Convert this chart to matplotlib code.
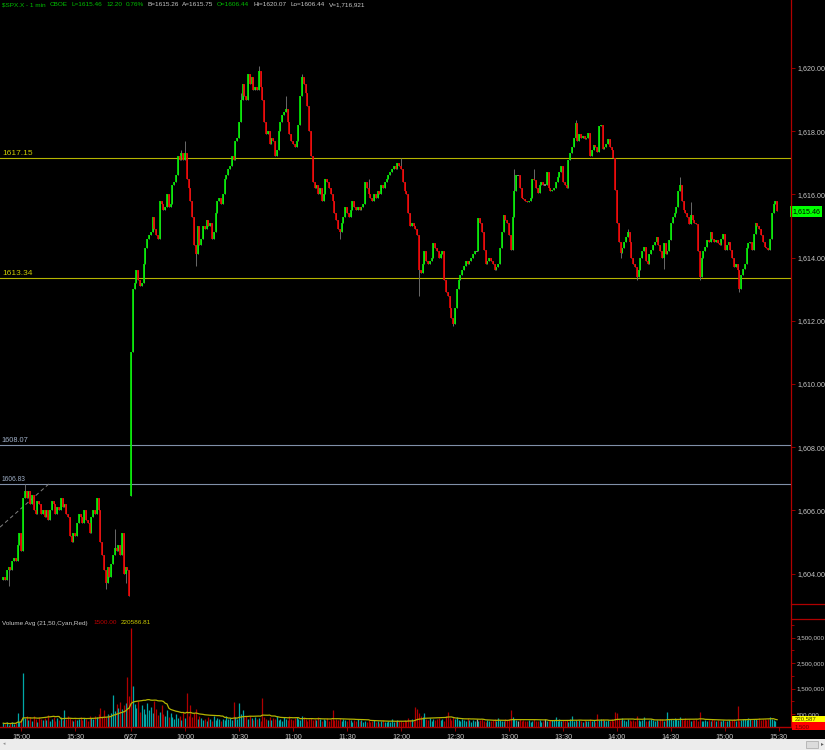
import matplotlib.pyplot as plt
from matplotlib.lines import Line2D
from matplotlib.patches import Rectangle
import numpy as np
import pandas as pd

plt.rcParams['font.family'] = ['Liberation Sans', 'DejaVu Sans']

# ---- data ----
# day 1 (6/26, 14:50 - 16:00) closes, one per minute
day1_close = [
    1603.9, 1603.8, 1604.1, 1604.2, 1604.1, 1604.4, 1604.5, 1604.4, 1604.9, 1605.3,
    1604.7, 1606.4, 1606.6, 1606.4, 1606.6, 1606.2, 1606.5, 1606.0, 1605.9, 1606.3,
    1606.2, 1605.9, 1606.0, 1605.8, 1606.0, 1605.7, 1606.0, 1606.3, 1606.2, 1605.9,
    1606.1, 1606.0, 1606.4, 1606.1, 1606.2, 1605.9, 1605.8, 1605.2, 1605.0, 1605.3,
    1605.2, 1605.6, 1605.9, 1605.8, 1605.6, 1606.0, 1605.7, 1605.6, 1605.3, 1605.8,
    1606.0, 1605.9, 1606.4, 1606.0, 1605.0, 1604.6, 1604.1, 1603.7, 1604.2, 1603.9,
    1604.3, 1604.6, 1604.8, 1604.7, 1604.9, 1604.6, 1605.3, 1604.0, 1604.2, 1604.1, 1603.3,
]
day1_open = 1603.8

# day 2 (6/27, 9:30 - 15:29) closes
day2_close = [
    1611.0, 1613.0, 1613.2, 1613.6, 1613.3, 1613.1, 1613.2, 1613.8, 1614.3, 1614.6,
    1614.7, 1614.8, 1615.3, 1614.9, 1614.7, 1614.6, 1615.8, 1615.7, 1615.5, 1615.6,
    1616.0, 1615.6, 1615.7, 1616.3, 1616.4, 1616.6, 1617.2, 1617.1, 1617.3, 1617.1,
    1617.3, 1616.5, 1616.2, 1615.8, 1615.3, 1614.4, 1614.1, 1615.0, 1614.4, 1614.6,
    1615.0, 1614.9, 1615.2, 1615.0, 1615.1, 1614.6, 1614.8, 1615.4, 1615.8, 1615.9,
    1615.7, 1616.0, 1616.5, 1616.6, 1616.8, 1616.9, 1617.2, 1617.1, 1617.7, 1617.8,
    1618.3, 1619.0, 1619.5, 1619.1, 1619.0, 1619.8, 1619.5, 1619.7, 1619.3, 1619.4,
    1619.3, 1619.9, 1619.4, 1619.0, 1618.3, 1617.9, 1618.0, 1617.6, 1617.8, 1617.7,
    1617.2, 1617.4, 1618.0, 1618.3, 1618.5, 1618.6, 1618.7, 1618.3, 1617.9, 1617.7,
    1617.6, 1617.5, 1617.7, 1618.2, 1619.1, 1619.7, 1619.5, 1619.2, 1618.8, 1618.0,
    1617.2, 1616.4, 1616.2, 1616.3, 1616.0, 1616.2, 1615.8, 1616.0, 1616.5, 1616.4,
    1616.2, 1616.0, 1615.8, 1615.4, 1615.2, 1614.9, 1614.8, 1615.1, 1615.3, 1615.6,
    1615.4, 1615.3, 1615.5, 1615.8, 1615.6, 1615.5, 1615.6, 1615.5, 1615.6, 1615.7,
    1616.4, 1616.2, 1616.0, 1615.9, 1615.8, 1616.0, 1615.9, 1616.1, 1616.0, 1616.3,
    1616.2, 1616.4, 1616.5, 1616.6, 1616.7, 1616.8, 1616.9, 1616.8, 1617.0, 1616.9,
    1616.8, 1616.4, 1616.1, 1616.0, 1615.4, 1615.0, 1615.1, 1615.0, 1614.9, 1614.7,
    1613.6, 1613.5, 1613.8, 1614.2, 1613.9, 1613.8, 1613.9, 1614.0, 1614.45, 1614.3,
    1614.2, 1614.0, 1614.1, 1614.2, 1613.3, 1612.9, 1612.8, 1612.4, 1612.1, 1611.9,
    1612.4, 1613.0, 1613.3, 1613.45, 1613.6, 1613.75, 1613.9, 1613.8, 1613.9, 1614.0,
    1614.1, 1614.2, 1614.2, 1615.25, 1615.1, 1614.8, 1614.25, 1613.8, 1613.9, 1614.0,
    1613.9, 1613.8, 1613.6, 1613.7, 1613.8, 1614.3, 1614.8, 1615.35, 1615.2, 1615.1,
    1614.7, 1614.25, 1615.3, 1616.1, 1616.6, 1616.6, 1616.2, 1615.9, 1615.85, 1615.8,
    1615.75, 1615.8, 1615.9, 1616.5, 1616.45, 1616.2, 1616.05, 1616.3, 1616.4, 1616.3,
    1616.3, 1616.7, 1616.2, 1616.1, 1616.15, 1616.2, 1616.4, 1616.55, 1616.7, 1616.9,
    1616.4, 1616.3, 1616.2, 1617.1, 1617.3, 1617.5, 1617.8, 1618.25, 1617.7, 1617.9,
    1617.8, 1617.85, 1617.75, 1617.8, 1617.95, 1617.2, 1617.4, 1617.55, 1617.5, 1617.35,
    1618.15, 1618.2, 1617.45, 1617.5, 1617.6, 1617.75, 1617.5, 1617.4, 1617.15, 1616.15,
    1615.1, 1614.5, 1614.15, 1614.3, 1614.5, 1614.65, 1614.8, 1614.5, 1614.0, 1613.8,
    1613.7, 1613.4, 1613.6, 1614.0, 1614.2, 1614.35, 1613.9, 1613.8, 1614.1, 1614.25,
    1614.4, 1614.5, 1614.65, 1614.4, 1614.2, 1614.0, 1614.45, 1614.1, 1614.2, 1614.55,
    1615.1, 1615.3, 1615.4, 1615.6, 1616.1, 1616.3, 1615.8, 1615.5, 1615.4, 1615.3,
    1615.05, 1615.35, 1615.2, 1615.1, 1615.05, 1614.2, 1613.4, 1614.0, 1614.2, 1614.35,
    1614.55, 1614.5, 1614.8, 1614.6, 1614.5, 1614.55, 1614.45, 1614.4, 1614.6, 1614.75,
    1614.25, 1614.4, 1614.5, 1614.25, 1614.0, 1613.7, 1613.8, 1613.6, 1613.0, 1613.45,
    1613.65, 1613.8, 1614.3, 1614.45, 1614.5, 1614.25, 1614.75, 1615.1, 1615.0, 1614.9,
    1614.7, 1614.5, 1614.35, 1614.3, 1614.25, 1614.6, 1615.4, 1615.7, 1615.8, 1615.46,
]
day2_open = 1606.44

# wick extremes that stick out of the bodies (bar index -> price)
wick_high = {12: 1606.85, 62: 1605.4, 99: 1617.4, 101: 1617.7, 132: 1619.2,
             142: 1620.07, 157: 1619.1, 166: 1619.8, 203: 1616.5, 221: 1617.15,
             284: 1616.8, 295: 1616.8, 318: 1618.35, 347: 1614.9, 376: 1616.55,
             382: 1615.75, 430: 1615.75}
wick_low = {3: 1603.6, 57: 1603.5, 68: 1603.7, 71: 1606.44, 107: 1613.75,
            187: 1614.6, 231: 1612.8, 250: 1611.85, 343: 1614.0, 352: 1613.3,
            367: 1613.65, 387: 1613.3, 409: 1612.9}

# volume in thousands, one per bar
volume_k = [
    150, 120, 180, 90, 140, 210, 110, 160, 550, 190,
    300, 2100, 350, 420, 280, 380, 250, 450, 310, 200,
    400, 330, 260, 360, 280, 470, 220, 310, 390, 250,
    340, 290, 380, 260, 670, 300, 420, 350, 280, 240,
    310, 270, 330, 380, 290, 360, 300, 250, 420, 350,
    330, 420, 380, 500, 750, 450, 680, 400, 520, 470,
    560, 1250, 620, 900, 760, 980, 700, 850, 950, 1950, 1200,
    3900, 1600, 900, 750, 1000, 600, 850, 700, 500, 950,
    650, 800, 550, 1000, 700, 480, 600, 870, 520, 450,
    650, 400, 550, 380, 300, 500, 350, 420, 280, 600,
    350, 1330, 450, 850, 400, 550, 700, 300, 420, 350,
    280, 320, 250, 380, 300, 220, 420, 260, 350, 300,
    240, 330, 280, 450, 300, 350, 260, 980, 400, 320,
    950, 500, 650, 380, 450, 300, 420, 350, 280, 400,
    300, 360, 250, 1140, 380, 320, 280, 400, 260, 350,
    300, 420, 280, 330, 250, 380, 300, 260, 450, 320,
    280, 350, 400, 300, 260, 420, 380, 300, 250, 330,
    350, 280, 300, 260, 400, 320, 220, 300, 280, 350,
    250, 300, 680, 280, 320, 260, 350, 240, 300, 270,
    230, 310, 260, 200, 280, 240, 300, 220, 260, 190,
    250, 210, 280, 180, 230, 260, 200, 240, 170, 220,
    260, 200, 180, 240, 210, 300, 190, 230, 260, 220,
    250, 200, 280, 230, 350, 260, 300, 240, 800, 700,
    550, 420, 380, 550, 300, 280, 350, 240, 300, 260,
    320, 370, 280, 300, 250, 420, 600, 350, 280, 400,
    300, 380, 260, 220, 300, 280, 240, 350, 260, 200,
    280, 240, 300, 220, 260, 330, 250, 200, 280, 240,
    220, 260, 300, 240, 350, 280, 250, 220, 300, 260,
    300, 650, 400, 300, 260, 240, 330, 220, 280, 250,
    230, 270, 200, 250, 300, 240, 220, 260, 180, 240,
    300, 250, 220, 260, 260, 280, 400, 220, 300, 250,
    280, 230, 260, 200, 300, 420, 240, 260, 220, 280,
    240, 200, 260, 220, 250, 300, 230, 270, 210, 500,
    260, 300, 300, 280, 240, 260, 220, 300, 250, 600,
    550, 320, 280, 350, 260, 240, 300, 280, 220, 260,
    240, 420, 260, 220, 280, 400, 250, 230, 260, 300,
    260, 220, 280, 240, 300, 300, 250, 280, 580, 300,
    320, 280, 350, 300, 260, 400, 300, 280, 350, 260,
    300, 240, 280, 260, 300, 250, 580, 240, 220, 260,
    240, 280, 220, 300, 260, 230, 280, 240, 220, 260,
    250, 230, 280, 220, 260, 300, 240, 820, 250, 280,
    300, 330, 260, 350, 300, 280, 320, 300, 260, 340,
    280, 320, 300, 260, 330, 380, 300, 280, 250, 1.5,
]
red_volume_bars = [71]

tick_pos = [10, 40, 71, 101, 131, 161, 191, 221, 251, 281, 311, 341, 371, 401, 431]
tick_labels = ['15:00', '15:30', '6/27', '10:00', '10:30', '11:00', '11:30', '12:00',
               '12:30', '13:00', '13:30', '14:00', '14:30', '15:00', '15:30']

yellow_levels = [1617.15, 1613.34]
blue_levels = [1608.07, 1606.83]
trend_x = [-1.8, 26]
trend_y = [1605.47, 1606.87]
last_price = 1615.46

# ---- build OHLC ----
close = np.array(day1_close + day2_close)
opens = np.concatenate([[day1_open], close[:-1]])
opens[len(day1_close)] = day2_open
high = np.maximum(opens, close)
low = np.minimum(opens, close)
for k, v in wick_high.items():
    high[k] = max(high[k], v)
for k, v in wick_low.items():
    low[k] = min(low[k], v)
idx = np.arange(len(close))
vol = np.array(volume_k) * 1000.0
vol_avg = pd.Series(vol).rolling(21, min_periods=1).mean()

up = close > opens
down = close < opens
flat = ~(up | down)

W, H = 825, 750
def fx(x):
    return x / W
def fy(y):
    return 1 - y / H

fig = plt.figure(figsize=(8.25, 7.5), dpi=100, facecolor='black')
ax = fig.add_axes([0, fy(604), fx(791), fy(0) - fy(604)], facecolor='black')
axv = fig.add_axes([0, fy(727), fx(791), fy(619) - fy(727)], facecolor='black')
renderer = fig.canvas.get_renderer()

AXRED = '#b00000'
LBL = '#c8c8c8'

# ---- price panel ----
for lv in yellow_levels:
    ax.axhline(lv, color='#b4b400', lw=0.8)
    ax.text(0.003, lv + 0.04, f'{lv:.2f}', transform=ax.get_yaxis_transform(),
            color='#c8c800', fontsize=6, va='bottom', ha='left')
for lv, fs in zip(blue_levels, [5.3, 4.8]):
    ax.axhline(lv, color='#8090a8', lw=0.8)
    ax.text(0.002, lv + 0.04, f'{lv:.2f}', transform=ax.get_yaxis_transform(),
            color='#a0b0c8', fontsize=fs, va='bottom', ha='left')

ax.plot(trend_x, trend_y, color='#808080', lw=0.7, ls=(0, (4, 3)))

ax.vlines(idx, low, high, color='#6a6a6a', lw=0.7)
ax.vlines(idx[up], opens[up], close[up], color='#00ff00', lw=1.15)
ax.vlines(idx[down], opens[down], close[down], color='#ff0000', lw=1.15)
ax.vlines(idx[flat], opens[flat] - 0.02, close[flat] + 0.02, color='#909090', lw=1.15)

ax.set_xlim(-1.8, 437.7)
ax.set_ylim(1603.038, 1622.152)
ax.set_xticks([])
ax.yaxis.tick_right()
yt = list(range(1604, 1621, 2))
ax.set_yticks(yt)
ax.set_yticklabels([f'{v:,.2f}' for v in yt])
ax.tick_params(axis='y', colors=AXRED, labelcolor=LBL, labelsize=5.1,
               length=3, width=0.6, pad=1.5)
for s in ax.spines.values():
    s.set_visible(False)

ax.text(1.0015, last_price, f'{last_price:,.2f}', transform=ax.get_yaxis_transform(),
        color='black', fontsize=5.1, va='center', ha='left', clip_on=False,
        bbox=dict(boxstyle='square,pad=0.3', fc='#00ff00', ec='none'))

# ---- volume panel ----
vcol = np.where(up, '#00a8a8', np.where(down, '#b00000', '#a0a0a0')).astype(object)
for k in red_volume_bars:
    vcol[k] = '#c00000'
axv.vlines(idx, 0, vol, colors=list(vcol), lw=0.9)
axv.plot(idx, vol_avg, color='#b4b400', lw=0.9)
axv.set_xlim(-1.8, 437.7)
axv.set_ylim(0, 4.235e6)
axv.yaxis.tick_right()
vt = [5e5, 1.5e6, 2.5e6, 3.5e6]
axv.set_yticks(vt)
axv.set_yticklabels([f'{int(v):,}' for v in vt])
axv.set_yticks([1e6, 2e6, 3e6, 4e6], minor=True)
axv.tick_params(axis='y', which='both', colors=AXRED, labelcolor=LBL, labelsize=4.5,
                length=3, width=0.6, pad=1)
axv.tick_params(axis='y', which='minor', length=2)
axv.set_xticks(tick_pos)
axv.set_xticklabels(tick_labels)
axv.tick_params(axis='x', colors=AXRED, labelcolor=LBL, labelsize=5.2,
                length=3, width=0.6, pad=2)
for name, s in axv.spines.items():
    s.set_visible(name == 'bottom')
axv.spines['bottom'].set_color(AXRED)
axv.spines['bottom'].set_linewidth(1.0)

# ---- frame lines of the right axis column ----
fig.add_artist(Line2D([fx(791), fx(791)], [fy(0), fy(727)], color=AXRED, lw=0.9))
for yy in [604, 619]:
    fig.add_artist(Line2D([fx(791), 1], [fy(yy), fy(yy)], color=AXRED, lw=0.9))

# volume value boxes
fig.add_artist(Rectangle((fx(792), fy(722)), fx(33), 6 / H, fc='#ffff00', ec='none'))
fig.add_artist(Rectangle((fx(792), fy(730)), fx(33), 8 / H, fc='#ff0000', ec='none'))
fig.text(fx(795), fy(718.5), '220,587', color='#404000', fontsize=4.3, va='center')
fig.text(fx(795), fy(726.5), '1,500', color='#600000', fontsize=4.3, va='center')


def text_row(x0, y, parts, size):
    x = x0
    for t, c, gap in parts:
        txt = fig.text(fx(x), fy(y), t, color=c, fontsize=size, va='center', ha='left')
        x += txt.get_window_extent(renderer).width + gap


# ---- header texts ----
green = '#00c000'
header = [('$SPX.X - 1 min', green, 4), ('CBOE', green, 4), ('L=1615.46', green, 4),
          ('12.20', green, 3), ('0.76%', green, 4), ('B=1615.26', LBL, 3),
          ('A=1615.75', LBL, 3), ('O=1606.44', green, 5), ('Hi=1620.07', LBL, 4),
          ('Lo=1606.44', LBL, 4), ('V=1,716,921', LBL, 0)]
text_row(2, 5, header, 4.6)

text_row(2, 623, [('Volume Avg (21,50,Cyan,Red)', LBL, 6), ('1500.00', '#c00000', 4),
                  ('220586.81', '#c8c800', 0)], 4.6)

# ---- scroll bar strip ----
fig.add_artist(Rectangle((0, 0), 1, fy(739), fc='#ececec', ec='none'))
fig.add_artist(Rectangle((fx(806), fy(748)), fx(12), 7 / H, fc='#dcdcdc', ec='#a8a8a8', lw=0.5))
fig.text(fx(822), fy(744), '\u25b8', color='#606060', fontsize=4, va='center', ha='center')
fig.text(fx(4), fy(744), '\u25c2', color='#909090', fontsize=3.5, va='center', ha='center')

fig.savefig('out.png', dpi=100, facecolor='black')
plt.close(fig)
